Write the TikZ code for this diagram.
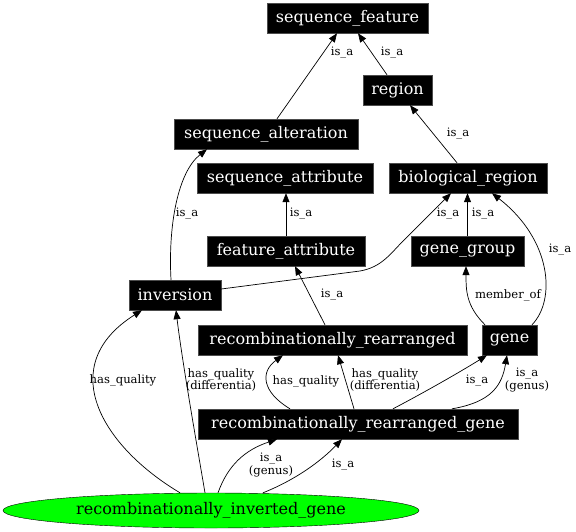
\documentclass[tikz,border=0pt]{standalone}
\usepackage{fontspec}
\newfontfamily\dvs{DejaVu Serif}
\usetikzlibrary{arrows.meta,shapes.geometric}
\definecolor{ellgreen}{RGB}{0,255,0}
\begin{document}
\begin{tikzpicture}[x=1pt,y=-1pt,
  box/.style={fill=black,draw=black!70,text=white,font=\dvs\fontsize{16}{18}\selectfont,minimum height=30pt,inner sep=0pt},
  lbl/.style={font=\dvs\fontsize{11.6}{11.5}\selectfont,align=center,inner sep=0pt},
  edge/.style={-{Triangle[length=9pt,width=7pt]},line width=0.7pt}]
\useasboundingbox (0,0) rectangle (576,531);
% nodes
\node[box,minimum width=161pt] (sf) at (347.5,18) {sequence\_feature};
\node[box,minimum width=69pt] (region) at (397.5,90) {region};
\node[box,minimum width=184pt] (salt) at (266,134) {sequence\_alteration};
\node[box,minimum width=176pt] (satt) at (285,178) {sequence\_attribute};
\node[box,minimum width=158pt] (bio) at (468,178) {biological\_region};
\node[box,minimum width=158pt] (fa) at (286,251) {feature\_attribute};
\node[box,minimum width=113pt] (gg) at (467.5,251) {gene\_group};
\node[box,minimum width=92pt] (inv) at (175,295) {inversion};
\node[box,minimum width=269pt] (rr) at (332.5,340) {recombinationally\_rearranged};
\node[box,minimum width=55pt] (gene) at (509.5,340) {gene};
\node[box,minimum width=320pt] (rrg) at (358,424) {recombinationally\_rearranged\_gene};
\node[ellipse,draw=black,fill=ellgreen,minimum width=416pt,minimum height=35pt,inner sep=0pt,font=\dvs\fontsize{16}{18}\selectfont] (rig) at (211,510.5) {recombinationally\_inverted\_gene};
% edges
\draw[edge] ([xshift=11pt]salt.north) -- ([xshift=-10.5pt]sf.south);
\node[lbl] (l1) at (342,53) {is\_a};
\draw[edge] ([xshift=-10.5pt]region.north) -- ([xshift=10.5pt]sf.south);
\node[lbl] (l2) at (392,53) {is\_a};
\draw[edge] ([xshift=-11pt]bio.north) -- ([xshift=12.5pt]region.south);
\node[lbl] (l3) at (458,134) {is\_a};
\draw[edge] ([xshift=-4pt]inv.north) .. controls (168,225) and (178,172) .. ([xshift=-59pt]salt.south);
\node[lbl] (l4) at (187,214) {is\_a};
\draw[edge] (fa.north) -- (satt.south -| fa.north);
\node[lbl] (l5) at (301,214) {is\_a};
\draw[edge] ([yshift=6pt]inv.east) -- (360,271) .. controls (382,267) and (390,254) .. (405,239) -- ([xshift=-17pt]bio.south);
\node[lbl] (l6) at (448,214) {is\_a};
\draw[edge] (gg.north) -- (bio.south -| gg.north);
\node[lbl] (l7) at (483,214) {is\_a};
\draw[edge] ([xshift=22.5pt]gene.north) .. controls (556,300) and (552,240) .. ([xshift=24pt]bio.south);
\node[lbl] (l8) at (560,250) {is\_a};
\draw[edge] ([xshift=-24.5pt]gene.north) .. controls (466,306) and (466,290) .. ([xshift=-1.5pt]gg.south);
\node[lbl] (l9) at (508,295) {member\_of};
\draw[edge] ([xshift=-7.5pt]rr.north) -- ([xshift=9pt]fa.south);
\node[lbl] (l10) at (332,295) {is\_a};
\draw[edge] ([xshift=-68pt]rrg.north) .. controls (262,392) and (260,372) .. ([xshift=-49.5pt]rr.south);
\node[lbl] (l11) at (306,381) {has\_quality};
\draw[edge] ([xshift=-4pt]rrg.north) -- ([xshift=5.5pt]rr.south);
\node[lbl] (l12) at (385,380) {has\_quality\\(differentia)};
\draw[edge] ([xshift=35pt]rrg.north) .. controls (425,392) and (460,372) .. ([xshift=-22.5pt]gene.south);
\node[lbl] (l13) at (477,381) {is\_a};
\draw[edge] ([xshift=94pt]rrg.north) .. controls (492,402) and (502,385) .. ([xshift=-2.5pt]gene.south);
\node[lbl] (l14) at (527,380) {is\_a\\(genus)};
\draw[edge] ([xshift=-31pt]rig.north) .. controls (100,445) and (55,365) .. ([xshift=-33pt]inv.south);
\node[lbl] (l15) at (123,380) {has\_quality};
\draw[edge] ([xshift=-6pt]rig.north) .. controls (196,440) and (182,360) .. ([xshift=1pt]inv.south);
\node[lbl] (l16) at (221,380) {has\_quality\\(differentia)};
\draw[edge] ([xshift=7pt]rig.north) .. controls (228,465) and (245,450) .. ([xshift=-81pt]rrg.south);
\node[lbl] (l17) at (271,465) {is\_a\\(genus)};
\draw[edge] ([xshift=52pt]rig.north) .. controls (295,480) and (320,462) .. ([xshift=-16pt]rrg.south);
\node[lbl] (l18) at (343,465) {is\_a};
\end{tikzpicture}
\end{document}
